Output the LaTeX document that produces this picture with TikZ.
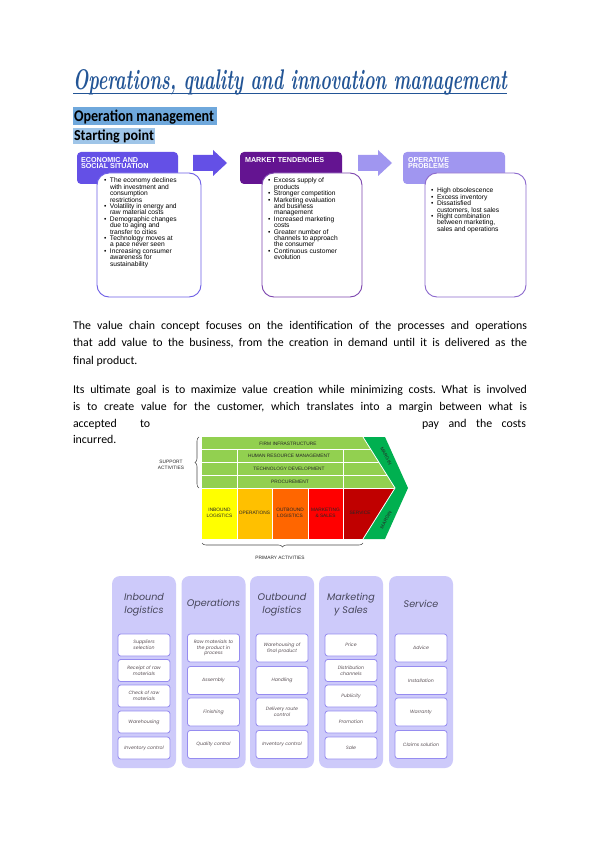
\documentclass[tikz,border=0pt]{standalone}
\usepackage{fontspec}
\setmainfont{Carlito}
\newfontfamily\arial{Liberation Sans}
\newfontfamily\gothic{Poppins}
\newfontfamily\lmr{Latin Modern Roman}
\usetikzlibrary{decorations.pathreplacing}
\frenchspacing
\definecolor{titleblue}{RGB}{35,85,150}
\definecolor{hlA}{RGB}{111,168,220}
\definecolor{hlB}{RGB}{159,197,232}
\definecolor{hdrA}{RGB}{100,80,230}
\definecolor{hdrB}{RGB}{100,20,145}
\definecolor{hdrC}{RGB}{160,150,240}
\definecolor{bodyA}{RGB}{110,95,230}
\definecolor{bodyB}{RGB}{125,70,175}
\definecolor{bodyC}{RGB}{140,105,205}
\definecolor{vcgreen}{RGB}{146,208,80}
\definecolor{vcdark}{RGB}{0,176,80}
\definecolor{vcyellow}{RGB}{255,255,0}
\definecolor{vcamber}{RGB}{255,192,0}
\definecolor{vcorange}{RGB}{255,102,0}
\definecolor{vcred}{RGB}{255,0,0}
\definecolor{vcdred}{RGB}{192,0,0}
\definecolor{colfill}{RGB}{205,202,250}
\definecolor{cellborder}{RGB}{150,140,240}
\definecolor{coltext}{RGB}{70,70,90}
\definecolor{celltext}{RGB}{90,80,85}
\newcommand\bi[1]{\makebox[4.5pt][l]{\textbullet}#1}
\newcommand\bc[1]{\hspace*{4.5pt}#1}
\tikzset{
  hdrtext/.style={anchor=north west, align=left, text=white, font=\arial\bfseries\fontsize{5.4}{5.2}\selectfont},
  bullets/.style={anchor=north west, align=left, font=\arial\fontsize{5}{4.8}\selectfont},
  para/.style={anchor=base west, font=\fontsize{8.9}{10}\selectfont},
  vclabel/.style={font=\arial\fontsize{3.6}{4.2}\selectfont, text=black!85, align=center},
  colbox/.style={fill=colfill, rounded corners=6pt, minimum width=48pt, minimum height=144pt},
  coltitle/.style={font=\gothic\itshape\fontsize{7.2}{9.75}\selectfont, text=coltext, align=center},
  cellbox/.style={draw=cellborder, line width=0.6pt, fill=white, rounded corners=2pt, minimum width=39pt,
    font=\gothic\itshape\fontsize{3.5}{4.3}\selectfont, text=celltext, align=center},
  smallcell/.style={cellbox, minimum height=16.5pt},
  bigcell/.style={cellbox, minimum height=21pt}
}
\begin{document}
\begin{tikzpicture}[x=0.75pt,y=-0.75pt, every node/.style={inner sep=0pt, outer sep=0pt}]
\useasboundingbox (0,0) rectangle (600,848);
\fill[white] (0,0) rectangle (600,848);

% title
\node[anchor=base west, text=titleblue] (title) at (73,90) {\resizebox{325.5pt}{15pt}{\lmr\itshape\bfseries Operations, quality and innovation management}};
\draw[titleblue, line width=1pt] (73,93.5) -- (507,93.5);

% headings
\fill[hlA] (73,107) rectangle (217,125);
\node[anchor=base west] (h1) at (74,122) {\resizebox{105pt}{8.6pt}{\bfseries Operation management}};
\fill[hlB] (73,128) rectangle (155,144);
\node[anchor=base west] (h2) at (74,141) {\resizebox{60pt}{8pt}{\bfseries Starting point}};

% starting point boxes
\fill[hdrA, rounded corners=3pt] (77,152) rectangle (178,184);
\fill[hdrB, rounded corners=3pt] (240,152) rectangle (342,184);
\fill[hdrC, rounded corners=3pt] (403,152) rectangle (505,184);
\node[hdrtext] (hd1) at (81,157) {ECONOMIC AND\\SOCIAL SITUATION};
\node[hdrtext] (hd2) at (245,157) {MARKET TENDENCIES};
\node[hdrtext] (hd3) at (408,157) {OPERATIVE\\PROBLEMS};
\draw[bodyA, fill=white, line width=0.7pt, rounded corners=9pt] (97,173) rectangle (201,297);
\draw[bodyB, fill=white, line width=0.7pt, rounded corners=9pt] (262,173) rectangle (362,297);
\draw[bodyC, fill=white, line width=0.7pt, rounded corners=9pt] (425,173) rectangle (526,297);
\fill[hdrA] (193,155) -- (213,155) -- (213,150) -- (227,163) -- (213,176) -- (213,171) -- (193,171) -- cycle;
\fill[hdrC] (358,155) -- (378,155) -- (378,150) -- (392,163) -- (378,176) -- (378,171) -- (358,171) -- cycle;

\node[bullets] (b1) at (104,178) {\bi{The economy declines}\\\bc{with investment and}\\\bc{consumption}\\\bc{restrictions}\\
\bi{Volatility in energy and}\\\bc{raw material costs}\\
\bi{Demographic changes}\\\bc{due to aging and}\\\bc{transfer to cities}\\
\bi{Technology moves at}\\\bc{a pace never seen}\\
\bi{Increasing consumer}\\\bc{awareness for}\\\bc{sustainability}};
\node[bullets] (b2) at (268,178) {\bi{Excess supply of}\\\bc{products}\\
\bi{Stronger competition}\\
\bi{Marketing evaluation}\\\bc{and business}\\\bc{management}\\
\bi{Increased marketing}\\\bc{costs}\\
\bi{Greater number of}\\\bc{channels to approach}\\\bc{the consumer}\\
\bi{Continuous customer}\\\bc{evolution}};
\node[bullets] (b3) at (431,188) {\bi{High obsolescence}\\
\bi{Excess inventory}\\
\bi{Dissatisfied}\\\bc{customers, lost sales}\\
\bi{Right combination}\\\bc{between marketing,}\\\bc{sales and operations}};

% paragraphs
\node[para] (p1) at (73,329) {\makebox[340.5pt][s]{The value chain concept focuses on the identification of the processes and operations}};
\node[para] (p2) at (73,346) {\makebox[340.5pt][s]{that add value to the business, from the creation in demand until it is delivered as the}};
\node[para] (p3) at (73,364) {final product.};
\node[para] (p4) at (73,393) {\makebox[340.5pt][s]{Its ultimate goal is to maximize value creation while minimizing costs. What is involved}};
\node[para] (p5) at (73,410) {\makebox[340.5pt][s]{is to create value for the customer, which translates into a margin between what is}};
\node[para] (p6a) at (73,427) {accepted};
\node[para] (p6b) at (140,427) {to};
\node[para] (p6c) at (422,427) {\makebox[78pt][s]{pay and the costs}};
\node[para] (p7) at (73,443) {incurred.};

% value chain
\begin{scope}
\clip (202,437) -- (363,437) -- (395,488) -- (363,539) -- (202,539) -- cycle;
\fill[vcgreen] (202,437) rectangle (400,488);
\fill[vcyellow] (202,488) rectangle (237,539);
\fill[vcamber] (237,488) rectangle (272,539);
\fill[vcorange] (272,488) rectangle (308,539);
\fill[vcred] (308,488) rectangle (343,539);
\fill[vcdred] (343,488) rectangle (400,539);
\draw[white, line width=0.7pt] (202,449.5) -- (400,449.5) (202,462) -- (400,462) (202,475) -- (400,475) (202,488) -- (400,488);
\draw[white, line width=0.5pt] (237,449.5) -- (237,539) (343,449.5) -- (343,539) (272,488) -- (272,539) (308,488) -- (308,539);
\end{scope}
\fill[vcdark] (363,437) -- (385,437) -- (408,488) -- (385,539) -- (363,539) -- (395,488) -- cycle;
\draw[white, line width=0.6pt] (363,437) -- (395,488) -- (363,539);
\node[vclabel] (fi) at (288,443.5) {FIRM INFRASTRUCTURE};
\node[vclabel] (hrm) at (289,456) {HUMAN RESOURCE MANAGEMENT};
\node[vclabel] (td) at (289,468.5) {TECHNOLOGY DEVELOPMENT};
\node[vclabel] (pr) at (290,481.5) {PROCUREMENT};
\node[vclabel] (il) at (219.5,513) {INBOUND\\LOGISTICS};
\node[vclabel] (op) at (254.5,513) {OPERATIONS};
\node[vclabel] (ol) at (290,513) {OUTBOUND\\LOGISTICS};
\node[vclabel] (ms) at (325.5,513) {MARKETING\\\& SALES};
\node[vclabel] (sv) at (360,513) {SERVICE};
\node[vclabel, rotate=-62] (m1) at (386,456) {MARGIN};
\node[vclabel, rotate=62] (m2) at (386,520) {MARGIN};
\node[vclabel] (sa) at (171,465) {SUPPORT\\ACTIVITIES};
\node[vclabel] (pa) at (280,558) {PRIMARY ACTIVITIES};
\draw[black!70, line width=0.4pt, decorate, decoration={brace, amplitude=3pt}] (199,488) -- (199,437);
\draw[black!70, line width=0.4pt, decorate, decoration={brace, amplitude=3pt}] (363,543) -- (202,543);

% bottom columns
\node[colbox] (col1) at (144,672) {};
\node[colbox] (col2) at (213.5,672) {};
\node[colbox] (col3) at (282,672) {};
\node[colbox] (col4) at (351,672) {};
\node[colbox] (col5) at (421,672) {};
\node[coltitle] (t1) at (144,605) {Inbound\\logistics};
\node[coltitle] (t2) at (213.5,604) {Operations};
\node[coltitle] (t3) at (282,605) {Outbound\\logistics};
\node[coltitle] (t4) at (351,605) {Marketing\\y Sales};
\node[coltitle] (t5) at (421,604) {Service};

\node[smallcell] (c11) at (144,645) {Suppliers\\selection};
\node[smallcell] (c12) at (144,670.5) {Receipt of raw\\materials};
\node[smallcell] (c13) at (144,696) {Check of raw\\materials};
\node[smallcell] (c14) at (144,722) {Warehousing};
\node[smallcell] (c15) at (144,748) {Inventory control};

\node[bigcell] (c21) at (213.5,648) {Raw materials to\\the product in\\process};
\node[bigcell] (c22) at (213.5,680.5) {Assembly};
\node[bigcell] (c23) at (213.5,712) {Finishing};
\node[bigcell] (c24) at (213.5,744.5) {Quality control};

\node[bigcell] (c31) at (282,648) {Warehousing of\\final product};
\node[bigcell] (c32) at (282,680.5) {Handling};
\node[bigcell] (c33) at (282,712) {Delivery route\\control};
\node[bigcell] (c34) at (282,744.5) {Inventory control};

\node[smallcell] (c41) at (351,645) {Price};
\node[smallcell] (c42) at (351,670.5) {Distribution\\channels};
\node[smallcell] (c43) at (351,696) {Publicity};
\node[smallcell] (c44) at (351,722) {Promotion};
\node[smallcell] (c45) at (351,748) {Sale};

\node[bigcell] (c51) at (421,648) {Advice};
\node[bigcell] (c52) at (421,680.5) {Installation};
\node[bigcell] (c53) at (421,712) {Warranty};
\node[bigcell] (c54) at (421,744.5) {Claims solution};
\end{tikzpicture}
\end{document}
